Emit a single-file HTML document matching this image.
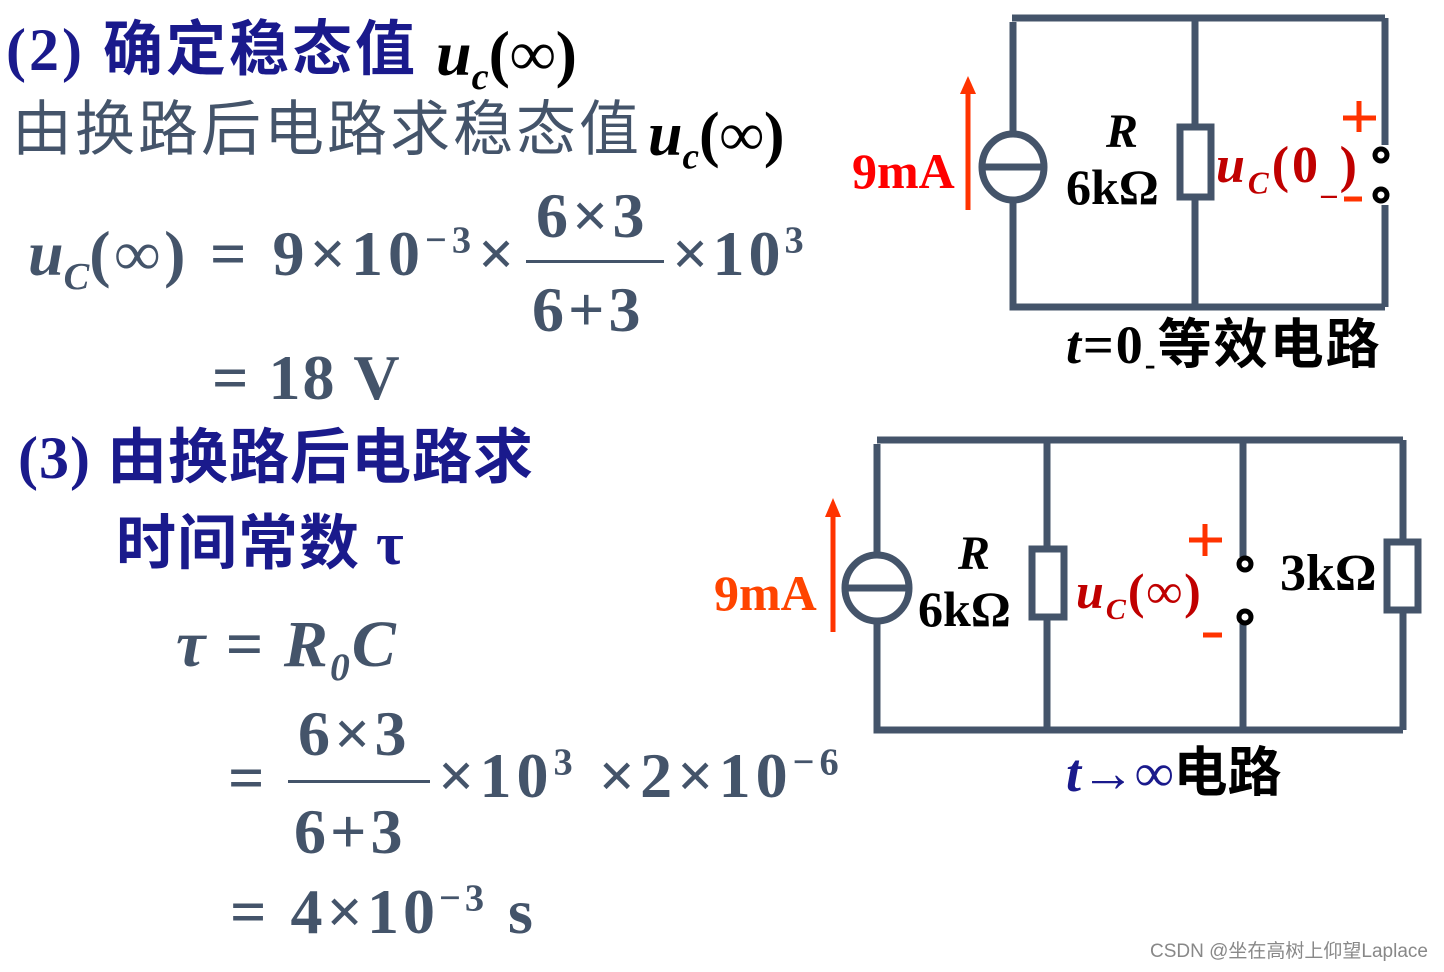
<!DOCTYPE html>
<html><head><meta charset="utf-8"><style>
body{margin:0;width:1444px;height:972px;background:#fff;position:relative;overflow:hidden;font-family:"Liberation Serif","Noto Serif CJK SC",serif}
.t{position:absolute;white-space:nowrap;line-height:1}
.b{font-weight:bold}
.i{font-style:italic}
.blue{color:#1a1a8c}
.g{color:#44546a}
.k{color:#000}
.cj{font-family:"Liberation Serif","Noto Sans CJK SC",sans-serif}
sub,sup{font-size:60%;line-height:0}
</style></head><body>
<div class="t b blue cj" style="left:6px;top:20px;font-size:60px;letter-spacing:3px">(2) 确定稳态值</div>
<div class="t b i k" style="left:436px;top:22px;font-size:64px">u<sub>c</sub><span style="font-style:normal">(∞)</span></div>
<div class="t g cj" style="left:12px;top:100px;font-size:60px;letter-spacing:3px">由换路后电路求稳态值</div>
<div class="t b i k" style="left:648px;top:104px;font-size:62px">u<sub>c</sub><span style="font-style:normal">(∞)</span></div>

<div class="t b g" style="left:28px;top:222px;font-size:64px"><i>u<sub>C</sub></i><span style="letter-spacing:4px">(∞)</span></div>
<div class="t b g" style="left:210px;top:222px;font-size:64px;letter-spacing:5px">= 9×10<sup>−3</sup></div>
<div class="t b g" style="left:478px;top:222px;font-size:64px">×</div>
<div class="t b g" style="left:536px;top:184px;font-size:64px;letter-spacing:4px">6×3</div>
<div style="position:absolute;left:526px;top:260px;width:138px;height:3px;background:#44546a"></div>
<div class="t b g" style="left:532px;top:278px;font-size:64px;letter-spacing:4px">6+3</div>
<div class="t b g" style="left:672px;top:222px;font-size:64px;letter-spacing:4px">×10<sup>3</sup></div>
<div class="t b g" style="left:212px;top:346px;font-size:64px;letter-spacing:2px">= 18 V</div>

<div class="t b blue cj" style="left:18px;top:428px;font-size:60px;letter-spacing:1px">(3) 由换路后电路求</div>
<div class="t b blue cj" style="left:116px;top:514px;font-size:60px;letter-spacing:1px">时间常数 τ</div>
<div class="t b i g" style="left:176px;top:612px;font-size:66px;letter-spacing:2px">τ <span style="font-style:normal">=</span> R<sub>0</sub>C</div>
<div class="t b g" style="left:298px;top:702px;font-size:64px;letter-spacing:4px">6×3</div>
<div class="t b g" style="left:228px;top:746px;font-size:64px">=</div>
<div style="position:absolute;left:288px;top:780px;width:142px;height:3px;background:#44546a"></div>
<div class="t b g" style="left:294px;top:800px;font-size:64px;letter-spacing:4px">6+3</div>
<div class="t b g" style="left:438px;top:744px;font-size:64px;letter-spacing:5px">×10<sup>3</sup> ×2×10<sup>−6</sup></div>
<div class="t b g" style="left:230px;top:880px;font-size:64px;letter-spacing:4px">= 4×10<sup>−3</sup> s</div>

<svg width="1444" height="972" style="position:absolute;left:0;top:0">
<g stroke="#44546a" stroke-width="7" fill="none">
<path d="M1012 18H1385M1013 22V133M1013 200V307H1385M1385 18V145M1385 205V307M1195 18V125M1195 197V307"/>
<rect x="1180" y="127" width="31" height="70" fill="#fff"/>
<ellipse cx="1013" cy="167" rx="31" ry="33"/>
<path d="M982 167H1044"/>
<path d="M877 440H1403M877 444V555M877 622V730H1403M1403 440V542M1403 610V730M1047 440V549M1047 617V730M1243 440V557M1243 624V730"/>
<rect x="1032" y="549" width="32" height="68" fill="#fff"/>
<rect x="1387" y="542" width="31" height="68" fill="#fff"/>
<ellipse cx="877" cy="588" rx="32" ry="33"/>
<path d="M845 588H909"/>
</g>
<g stroke="#000" stroke-width="5" fill="#fff">
<circle cx="1381" cy="155" r="6"/><circle cx="1381" cy="195" r="6"/>
<circle cx="1245" cy="564" r="6"/><circle cx="1245" cy="617" r="6"/>
</g>
<g fill="#ff3300" stroke="#ff3300">
<path d="M968 210V92" stroke-width="5"/><path d="M960 94L968 76L976 94Z" stroke="none"/>
<path d="M833 632V515" stroke-width="5"/><path d="M825 517L833 498L841 517Z" stroke="none"/>
<path d="M1343 118H1376M1359 101V132M1344 199H1362M1189 540H1222M1205 524V556M1203 635H1222" stroke-width="5"/>
</g>
</svg>
<div class="t b" style="left:852px;top:146px;font-size:50px;color:#ff0000">9mA</div>
<div class="t b i k" style="left:1106px;top:108px;font-size:48px">R</div>
<div class="t b k" style="left:1066px;top:162px;font-size:50px">6kΩ</div>
<div class="t b" style="left:1216px;top:140px;font-size:52px;color:#c00000;letter-spacing:3px"><i>u<sub>C</sub></i>(0<sub>_</sub>)</div>
<div class="t b k cj" style="left:1066px;top:318px;font-size:54px;letter-spacing:2px"><i>t</i>=0<sub>-</sub>等效电路</div>

<div class="t b" style="left:714px;top:568px;font-size:50px;color:#ff4400">9mA</div>
<div class="t b i k" style="left:958px;top:530px;font-size:48px">R</div>
<div class="t b k" style="left:918px;top:584px;font-size:50px">6kΩ</div>
<div class="t b" style="left:1076px;top:566px;font-size:50px;color:#c00000;letter-spacing:2px"><i>u<sub>C</sub></i>(∞)</div>
<div class="t b k" style="left:1280px;top:548px;font-size:52px">3kΩ</div>
<div class="t b k cj" style="left:1066px;top:746px;font-size:54px"><i class="blue">t</i><span class="blue">→∞</span>电路</div>
<div class="t" style="left:1150px;top:942px;font-size:19px;color:#888;font-family:'Liberation Sans','Noto Sans CJK SC',sans-serif">CSDN @坐在高树上仰望Laplace</div>
</body></html>
